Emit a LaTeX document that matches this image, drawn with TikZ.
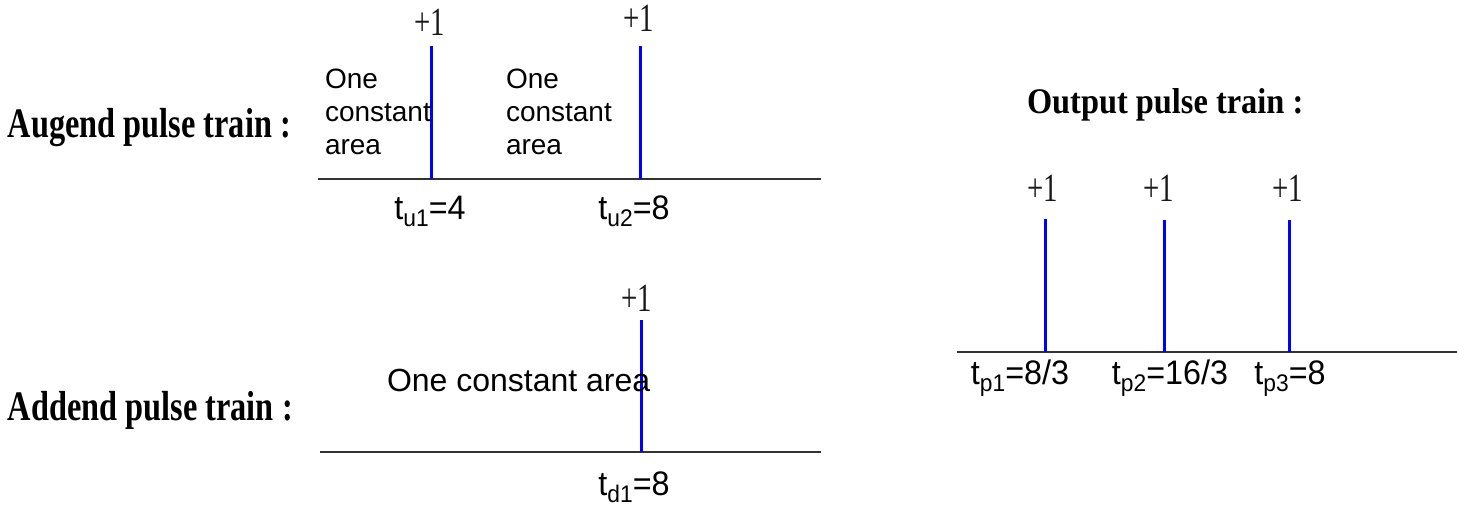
\documentclass[tikz,border=0pt]{standalone}
\usepackage{fontspec}
\newfontfamily\titlefont{Liberation Serif}[FakeStretch=0.77]
\newfontfamily\outtitlefont{Liberation Serif}[FakeStretch=0.9]
\newfontfamily\plusfont{Liberation Serif}[FakeStretch=0.72]
\newfontfamily\labfont{Liberation Sans}[FakeStretch=0.95]
\newfontfamily\areafont{Liberation Sans}
\newcommand\tsub[2]{t\raisebox{-7pt}{\fontsize{24}{24}\selectfont #1}=#2}
\begin{document}
\begin{tikzpicture}[x=1pt,y=-1pt,
  txt/.style={inner sep=0pt,outer sep=0pt},
  title/.style={txt,anchor=base west,font=\titlefont\bfseries\fontsize{42}{42}\selectfont},
  outtitle/.style={txt,anchor=base west,font=\outtitlefont\bfseries\fontsize{36}{36}\selectfont},
  plus/.style={txt,anchor=base,text=black!90,font=\plusfont\fontsize{40}{40}\selectfont},
  tlabel/.style={txt,anchor=base,font=\labfont\fontsize{34}{34}\selectfont},
  area/.style={txt,anchor=base west,align=left,font=\areafont\fontsize{28}{33}\selectfont},
  areabig/.style={txt,anchor=base west,font=\areafont\fontsize{32}{32}\selectfont},
  axis/.style={draw=black!80,line width=2pt},
  pulse/.style={draw=blue,line width=3pt}]
\useasboundingbox (0,0) rectangle (1457,507);

% titles
\node[title] (augt) at (8,137) {Augend pulse train :};
\node[title] (addt) at (8,420) {Addend pulse train :};
\node[outtitle] (outt) at (1027,113) {Output pulse train :};

% augend
\coordinate (uaL) at (318,179);
\coordinate (uaR) at (821,179);
\draw[axis] (uaL) -- (uaR);
\coordinate (u1b) at (431,179);
\coordinate (u1t) at (431,46);
\coordinate (u2b) at (640,179);
\coordinate (u2t) at (640,46);
\draw[pulse] (u1b) -- (u1t);
\draw[pulse] (u2b) -- (u2t);
\node[plus] (pu1) at (430,35) {+1};
\node[plus] (pu2) at (639,31) {+1};
\node[tlabel] (lu1) at (430,219) {\tsub{u1}{4}};
\node[tlabel] (lu2) at (634,219) {\tsub{u2}{8}};
\node[area] (ar1) at (325,154) {One\\constant\\area};
\node[area] (ar2) at (506,154) {One\\constant\\area};

% addend
\coordinate (daL) at (320,452);
\coordinate (daR) at (821,452);
\draw[axis] (daL) -- (daR);
\coordinate (d1b) at (641,452);
\coordinate (d1t) at (641,320);
\draw[pulse] (d1b) -- (d1t);
\node[plus] (pd1) at (637,311) {+1};
\node[tlabel] (ld1) at (634,495) {\tsub{d1}{8}};
\node[areabig] (ar3) at (387,391) {One constant area};

% output
\coordinate (oaL) at (957,352);
\coordinate (oaR) at (1457,352);
\draw[axis] (oaL) -- (oaR);
\coordinate (p1b) at (1045,352);
\coordinate (p1t) at (1045,219);
\coordinate (p2b) at (1164,352);
\coordinate (p2t) at (1164,220);
\coordinate (p3b) at (1289,352);
\coordinate (p3t) at (1289,220);
\draw[pulse] (p1b) -- (p1t);
\draw[pulse] (p2b) -- (p2t);
\draw[pulse] (p3b) -- (p3t);
\node[plus] (pp1) at (1043,201) {+1};
\node[plus] (pp2) at (1159,201) {+1};
\node[plus] (pp3) at (1288,201) {+1};
\node[tlabel] (lp1) at (1020,384) {\tsub{p1}{8/3}};
\node[tlabel] (lp2) at (1170,384) {\tsub{p2}{16/3}};
\node[tlabel] (lp3) at (1290,384) {\tsub{p3}{8}};
\end{tikzpicture}
\end{document}
